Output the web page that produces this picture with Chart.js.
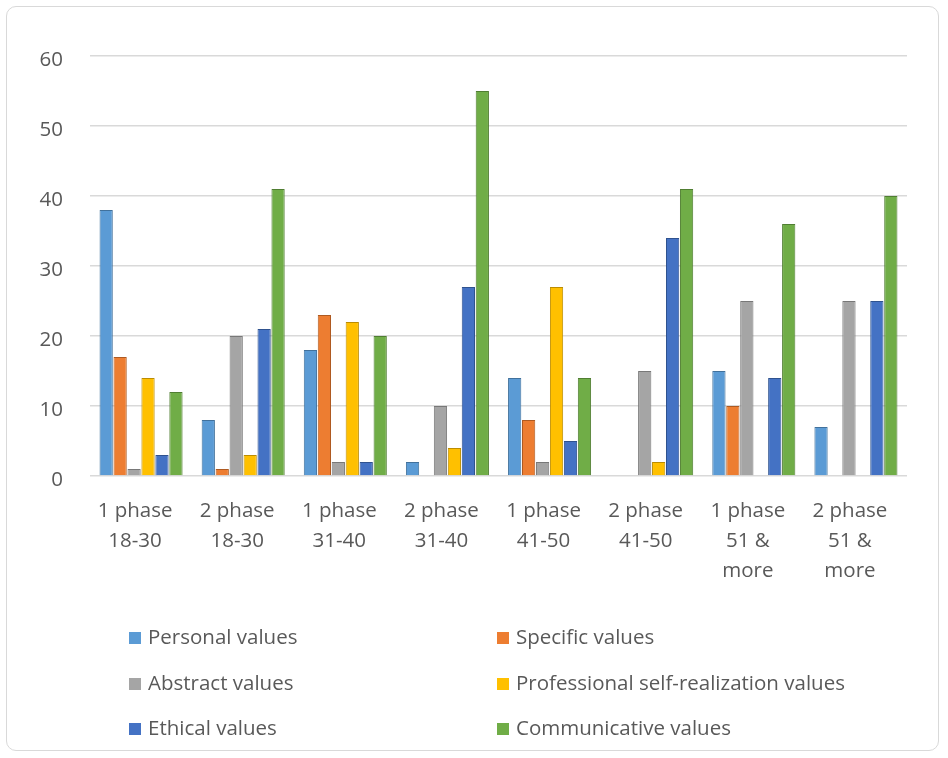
<!DOCTYPE html>
<html>
<head>
<meta charset="utf-8">
<script src="https://cdn.jsdelivr.net/npm/chart.js@4/dist/chart.umd.min.js"></script>
<style>
  html, body { margin: 0; padding: 0; background: #fff; }
  #frame {
    position: absolute; left: 6px; top: 6px; width: 933px; height: 745px;
    border: 1px solid #d9d9d9; border-radius: 10px; box-sizing: border-box;
  }
  #wrap { position: absolute; left: 0; top: 0; width: 948px; height: 600px; }
  #legend { position: absolute; left: 0; top: 0; width: 948px; height: 758px; pointer-events: none; }
  .item {
    position: absolute; font-family: 'Open Sans', sans-serif; font-size: 20.5px;
    color: #595959; line-height: 24px; white-space: nowrap;
  }
  .item span.box {
    display: inline-block; width: 12px; height: 12px; margin-right: 7px; vertical-align: 0px;
  }
</style>
</head>
<body>
<div id="frame"></div>
<div id="wrap"><canvas id="c" width="948" height="600"></canvas></div>
<div id="legend"></div>
<script>
// categories (phase / age group)
const categories = [
  ['1 phase', '18-30'], ['2 phase', '18-30'],
  ['1 phase', '31-40'], ['2 phase', '31-40'],
  ['1 phase', '41-50'], ['2 phase', '41-50'],
  ['1 phase', '51 &', 'more'], ['2 phase', '51 &', 'more']
]

const seriesNames = ['Personal values', 'Specific values', 'Abstract values',
  'Professional self-realization values', 'Ethical values', 'Communicative values']

const personal      = [38, 8, 18, 2, 14, 0, 15, 7]
const specific      = [17, 1, 23, 0, 8, 0, 10, 0]
const abstractVals  = [1, 20, 2, 10, 2, 15, 25, 25]
const professional  = [14, 3, 22, 4, 27, 2, 0, 0]
const ethical       = [3, 21, 2, 27, 5, 34, 14, 25]
const communicative = [12, 41, 20, 55, 14, 41, 36, 40]

const yTicks = [0, 10, 20, 30, 40, 50, 60]

const fillColors = ['#5B9BD5', '#ED7D31', '#A5A5A5', '#FFC000', '#4472C4', '#70AD47']
const edgeColors = ['#41719C', '#AE5A21', '#787878', '#BC8C00', '#2F528F', '#507E32']

// cylinder look: horizontal gradient across each bar
function cylinder(i) {
    return function (ctx) {
        const el = ctx.element
        if (!el || el.width === undefined || !isFinite(el.x)) return fillColors[i]
        const c = ctx.chart.ctx
        const w = el.width
        const g = c.createLinearGradient(el.x - w / 2, 0, el.x + w / 2, 0)
        g.addColorStop(0, edgeColors[i])
        g.addColorStop(0.35, fillColors[i])
        g.addColorStop(0.7, fillColors[i])
        g.addColorStop(1, edgeColors[i])
        return g
    }
}

const allSeries = [personal, specific, abstractVals, professional, ethical, communicative]
const datasets = allSeries.map(function (vals, i) {
    return {
        label: seriesNames[i],
        data: vals,
        backgroundColor: cylinder(i),
        borderColor: edgeColors[i],
        borderWidth: 1,
        categoryPercentage: 0.82,
        barPercentage: 0.95
    }
})

new Chart(document.getElementById('c'), {
    type: 'bar',
    data: { labels: categories, datasets: datasets },
    options: {
        responsive: false,
        animation: false,
        devicePixelRatio: 1,
        layout: { padding: { left: 0, right: 41, top: 56, bottom: 0 } },
        plugins: { legend: { display: false }, tooltip: { enabled: false } },
        scales: {
            x: {
                grid: { display: false, drawTicks: false },
                border: { display: false },
                ticks: {
                    color: '#595959',
                    font: { family: 'Open Sans', size: 20.5, lineHeight: 1.46 },
                    padding: 20,
                    labelOffset: -6,
                    maxRotation: 0, autoSkip: false
                },
                afterFit: function (s) { s.height = 124 }
            },
            y: {
                min: 0, max: 60,
                afterBuildTicks: function (s) { s.ticks = yTicks.map(v => ({ value: v })) },
                grid: { color: '#d9d9d9', lineWidth: 1.5, drawTicks: false },
                border: { display: false },
                ticks: {
                    color: '#595959',
                    font: { family: 'Open Sans', size: 20.5 },
                    padding: 27,
                    labelOffset: 4
                },
                afterFit: function (s) { s.width = 90 }
            }
        }
    }
})

// legend, two columns, three rows
const legend = document.getElementById('legend')
const legX = [129, 497]
const legY = [624, 670, 715]
seriesNames.forEach(function (name, i) {
    const d = document.createElement('div')
    d.className = 'item'
    d.style.left = legX[i % 2] + 'px'
    d.style.top = legY[Math.floor(i / 2)] + 'px'
    d.innerHTML = '<span class="box" style="background:' + fillColors[i] + '"></span>' + name
    legend.appendChild(d)
})
</script>
</body>
</html>
